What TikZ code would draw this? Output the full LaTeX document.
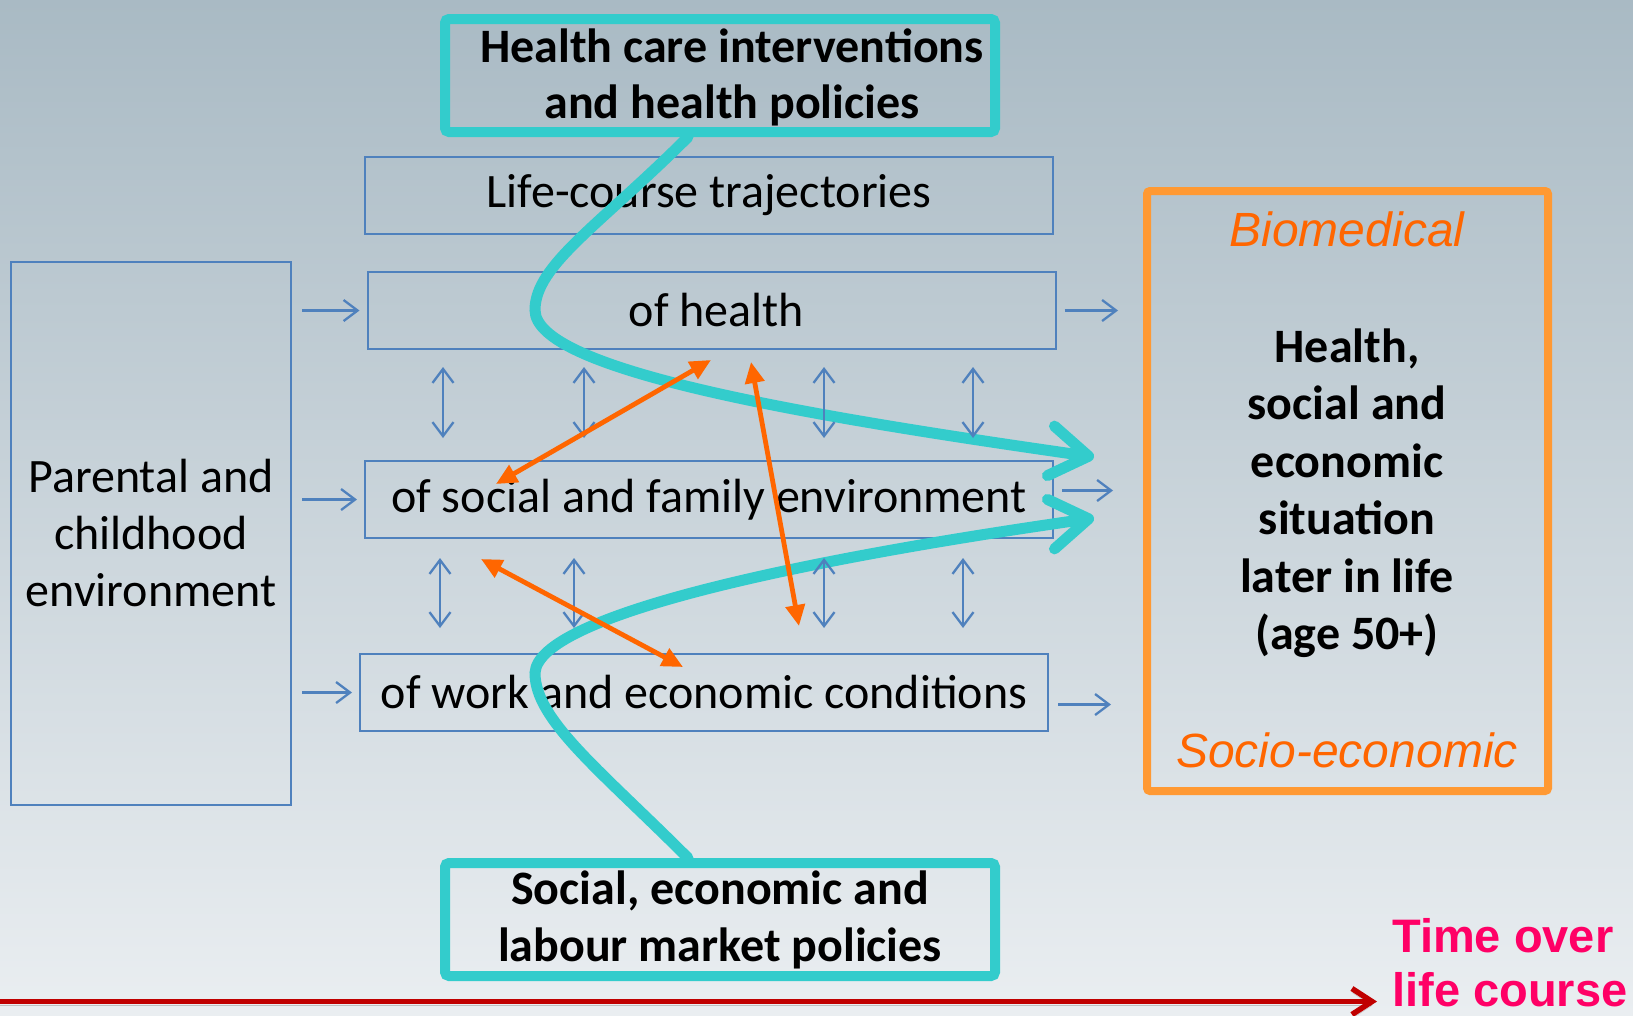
\documentclass[tikz,border=0pt]{standalone}
\usepackage{fontspec}
\setmainfont{Carlito}
\newfontfamily\arialfont{Liberation Sans}
\usepackage{xcolor}
\usepackage{tikz}
\usetikzlibrary{positioning,arrows.meta}

\definecolor{boxblue}{HTML}{4F81BD}
\definecolor{policyteal}{HTML}{33CCCC}
\definecolor{outorange}{HTML}{FF9933}
\definecolor{linkorange}{HTML}{FF6600}
\definecolor{timered}{HTML}{C00000}
\definecolor{timepink}{HTML}{FF0066}
\definecolor{bgtop}{HTML}{A9BAC4}
\definecolor{bgbottom}{HTML}{EAEEF1}

\begin{document}
\begin{tikzpicture}[x=1pt, y=1pt,
	every node/.style={inner sep=0pt, font=\fontsize{48}{57}\selectfont},
	trajbox/.style={draw=boxblue, line width=2pt, minimum width=688pt, minimum height=77pt},
	policybox/.style={draw=policyteal, line width=10pt, rounded corners=4pt, minimum width=550pt, minimum height=113pt, align=center, font=\fontsize{48}{57}\selectfont\bfseries},
	flow/.style={draw=boxblue, line width=2.3pt, -{Straight Barb[length=14pt, width=21pt]}},
	mutual/.style={flow, {Straight Barb[length=14pt, width=21pt]}-{Straight Barb[length=14pt, width=21pt]}},
	link/.style={draw=linkorange, line width=4.8pt, {Triangle[length=21pt, width=19pt]}-{Triangle[length=21pt, width=19pt]}},
	policyflow/.style={draw=policyteal, line width=11pt, line cap=round, -{Straight Barb[length=38pt, width=50pt, line cap=round, line join=round]}},
	outlabel/.style={font=\arialfont\itshape\fontsize{48}{57}\selectfont, text=linkorange}
]
	\useasboundingbox (0,0) rectangle (1633,-1015);
	\shade[top color=bgtop, bottom color=bgbottom] (0,0) rectangle (1633,-1015);

	% boxes
	\node[policybox] (healthcare) at (720,-75.5) {};
	\node[font=\fontsize{48}{56}\selectfont\bfseries, align=center] (healthcaretext) at (732,-77) {Health care interventions\\and health policies};
	\node[trajbox] (lifecourse) at (709,-195.5) {Life-course trajectories};
	\node[trajbox] (health) at (711.5,-310.5) {\hspace*{10pt}of health};
	\node[trajbox] (social) at (709,-499.5) {of social and family environment};
	\node[trajbox] (work) at (704,-692.5) {of work and economic conditions};
	\node[draw=boxblue, line width=2pt, minimum width=280pt, minimum height=543pt, align=center] (parental) at (151,-533.5) {Parental and\\childhood\\environment};
	\node[policybox] (socialpolicy) at (720,-919.5) {Social, economic and\\labour market policies};

	\node[draw=outorange, line width=8pt, rounded corners=3pt, minimum width=401pt, minimum height=600pt] (outcome) at (1347.5,-491) {};
	\node[outlabel] (biomed) at (1347,-229) {Biomedical};
	\node[font=\fontsize{48}{57.5}\selectfont\bfseries, align=center] (outcometext) at (1347,-493) {Health,\\social and\\economic\\situation\\later in life\\(age 50+)};
	\node[outlabel] (socioeco) at (1347,-750) {Socio-economic};

	% policy curves
	\coordinate (tiptop) at (1094,-457);
	\coordinate (tipbot) at (1094,-518);
	\draw[policyflow] ([xshift=-32pt]healthcare.south) .. controls (600,-225) and (535,-265) .. (535,-310) .. controls (535,-370) and (800,-415) .. (tiptop);
	\draw[policyflow] ([xshift=-32pt]socialpolicy.north) .. controls (600,-770) and (535,-720) .. (535,-673) .. controls (538,-615) and (800,-560) .. (tipbot);

	% blue arrows
	\foreach \b in {health, social, work}
		\draw[flow, shorten <=10pt, shorten >=7pt] (parental.east |- \b) -- (\b);
	\draw[flow, shorten <=8pt, shorten >=25pt] (health.east) -- (health.east -| outcome.west);
	\draw[flow, shorten <=8pt, shorten >=30pt] ([yshift=9pt]social.east) -- ([yshift=9pt]social.east -| outcome.west);
	\draw[flow, shorten <=9pt, shorten >=32pt] ([yshift=-12pt]work.east) -- ([yshift=-12pt]work.east -| outcome.west);
	\foreach \x in {443,584,824,973}
		\draw[mutual, shorten <=17pt, shorten >=22pt] (health.south -| \x,0) -- (social.north -| \x,0);
	\foreach \x in {440,574,824,963}
		\draw[mutual, shorten <=19pt, shorten >=25pt] (social.south -| \x,0) -- (work.north -| \x,0);

	% orange links
	\coordinate (h1) at (711,-360);
	\coordinate (s1) at (496,-484);
	\coordinate (h2) at (751,-362);
	\coordinate (w2) at (799,-626);
	\coordinate (s3) at (481,-559);
	\coordinate (w3) at (683,-667);
	\draw[link] (h1) -- (s1);
	\draw[link] (h2) -- (w2);
	\draw[link] (s3) -- (w3);

	% time axis
	\node[anchor=north west, align=left, text=timepink, font=\arialfont\bfseries\fontsize{47}{54}\selectfont] (timelabel) at (1392,-918) {Time over\\life course};
	\coordinate (timestart) at (0,-1001.5);
	\draw[timered, line width=5.5pt, -{Straight Barb[length=20pt, width=26pt]}, shorten >=15pt,
		preaction={draw=black!25, transform canvas={yshift=-4pt}}] (timestart) -- (timestart -| timelabel.west);
\end{tikzpicture}
\end{document}
